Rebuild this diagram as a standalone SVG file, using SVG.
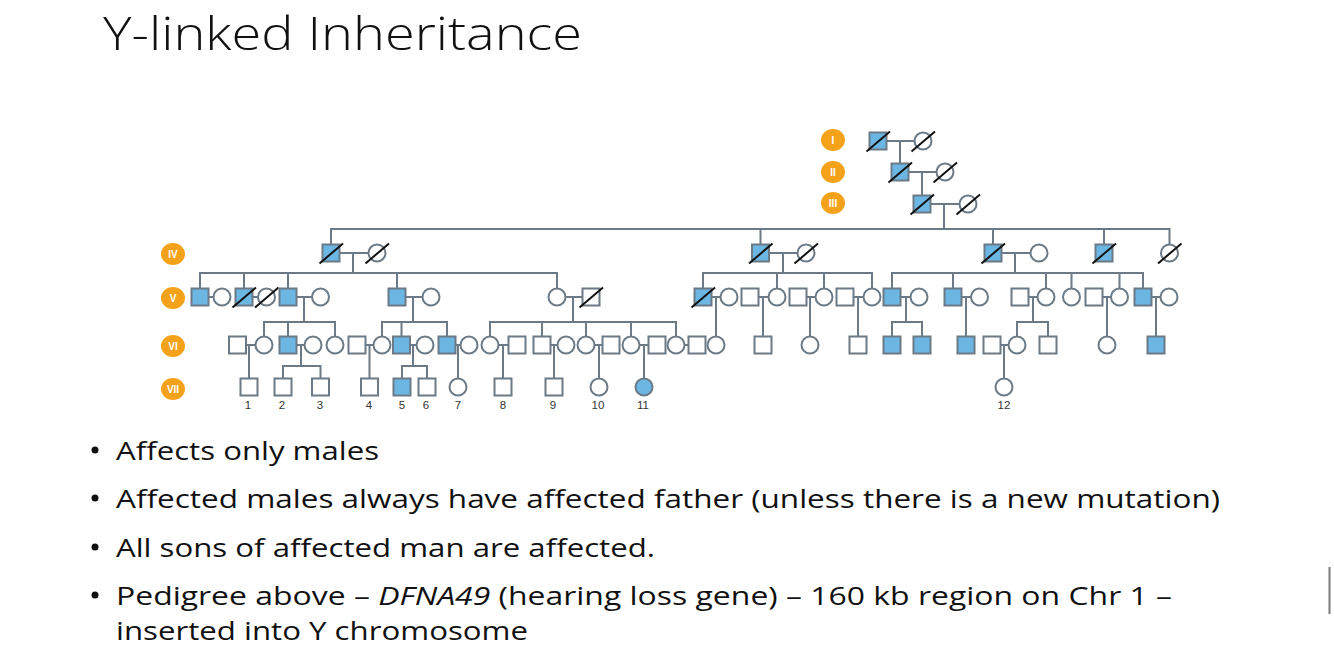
<svg xmlns="http://www.w3.org/2000/svg" xmlns:xlink="http://www.w3.org/1999/xlink" width="1334" height="656" viewBox="0 0 1334 656">
<style>
.bg{fill:#fff}
.nd{fill:#fff;stroke:#6b7a86;stroke-width:2}
.af{fill:#6cb6e4}
.ln{fill:none;stroke:#6b7a86;stroke-width:2}
.d{stroke:#111;stroke-width:2}
.gl{fill:#f5a21b}
.gt{font-family:"Liberation Sans",Arial,sans-serif;font-weight:bold;font-size:10px;fill:#fff;text-anchor:middle}
.num{font-family:"Liberation Sans",Arial,sans-serif;font-size:11.5px;fill:#333;text-anchor:middle}
.title{font-family:"Open Sans","Liberation Sans",sans-serif;font-weight:300;font-size:46px;fill:#111}
.bul{font-family:"Open Sans","Liberation Sans",sans-serif;font-size:26px;fill:#111}
</style>
<defs>
<rect id="sq" x="-8.5" y="-8.5" width="17" height="17"/>
<circle id="ci" r="8.5"/>
<line id="sl" x1="-11.5" y1="10.5" x2="12" y2="-9.5"/>
</defs>
<rect class="bg" x="0" y="0" width="1334" height="656"/>
<text class="title" x="103" y="49.5" textLength="479" lengthAdjust="spacingAndGlyphs">Y-linked Inheritance</text>

<g id="gen-labels">
<ellipse class="gl" cx="833" cy="140" rx="12" ry="11"/><text class="gt" x="833" y="143.5">I</text>
<ellipse class="gl" cx="833" cy="172" rx="12" ry="11"/><text class="gt" x="833" y="175.5">II</text>
<ellipse class="gl" cx="833" cy="203" rx="12" ry="11"/><text class="gt" x="833" y="206.5">III</text>
<ellipse class="gl" cx="173" cy="254" rx="12" ry="11"/><text class="gt" x="173" y="257.5">IV</text>
<ellipse class="gl" cx="173" cy="298" rx="12" ry="11"/><text class="gt" x="173" y="301.5">V</text>
<ellipse class="gl" cx="173" cy="346" rx="12" ry="11"/><text class="gt" x="173" y="349.5">VI</text>
<ellipse class="gl" cx="173" cy="389" rx="12" ry="11"/><text class="gt" x="173" y="392.5">VII</text>
</g>

<g id="connectors">
<path class="ln" d="M886.5 141H914.5M900 141V163.5M908.5 172H936.5M922 172V195.5M930.5 204H959.5M944 204V229
M331 244.5V229H1169.5V244.5M760.5 229V244.5M993 229V244.5M1104 229V244.5
M339.5 253H368.5M353 253V273M200 288.5V273H557V288.5M244 273V288.5M288 273V288.5M397 273V288.5
M208.5 297H213.5M252.5 297H258M296.5 297H312M304 297V322M264 336.5V322H335V336.5M288 322V336.5
M246 345H255.5M249 345V378.5M296.5 345H304.5M301 345V366M283 378.5V366H320.5V378.5
M405.5 297H422.5M413 297V322M382 336.5V322H447V336.5M401.5 322V336.5
M365.5 345H373.5M369.5 345V378.5M410 345H416.5M413 345V366M402 378.5V366H427V378.5M455.5 345H460.5M458 345V378.5
M565.5 297H582.5M573 297V322M490 336.5V322H676V336.5M542 322V336.5M586 322V336.5M631 322V336.5
M498.5 345H508.5M503 345V378.5M550.5 345H557.5M554 345V378.5M594.5 345H602.5M599 345V378.5M639.5 345H648.5M644 345V378.5M684.5 345H688.5
M769 253H797.5M783 253V273M703 288.5V273H872V288.5M777 273V288.5M824 273V288.5
M711.5 297H720.5M716 297V336.5M758.5 297H768.5M763 297V336.5M806.5 297H815.5M810 297V336.5M853.5 297H863.5M858 297V336.5
M1001.5 253H1030.5M1015 253V273M892 288.5V273H1143V288.5M953 273V288.5M1046 273V288.5M1071.5 273V288.5M1119.5 273V288.5
M900.5 297H910.5M906 297V322M892 336.5V322H922V336.5M961.5 297H971M966 297V336.5
M1028.5 297H1037.5M1033 297V322M1017 336.5V322H1048V336.5M1000.5 345H1008.5M1004 345V378.5
M1102.5 297H1111M1107 297V336.5M1151.5 297H1160.5M1156 297V336.5"/>
</g>

<g id="I-1"><use href="#sq" x="878" y="141" class="nd af"/><use href="#sl" x="878" y="141" class="d"/></g>
<g id="I-2"><use href="#ci" x="923" y="141" class="nd"/><use href="#sl" x="923" y="141" class="d"/></g>
<g id="II-1"><use href="#sq" x="900" y="172" class="nd af"/><use href="#sl" x="900" y="172" class="d"/></g>
<g id="II-2"><use href="#ci" x="945" y="172" class="nd"/><use href="#sl" x="945" y="172" class="d"/></g>
<g id="III-1"><use href="#sq" x="922" y="204" class="nd af"/><use href="#sl" x="922" y="204" class="d"/></g>
<g id="III-2"><use href="#ci" x="968" y="204" class="nd"/><use href="#sl" x="968" y="204" class="d"/></g>

<g id="IV-1"><use href="#sq" x="331" y="253" class="nd af"/><use href="#sl" x="331" y="253" class="d"/></g>
<g id="IV-2"><use href="#ci" x="377" y="253" class="nd"/><use href="#sl" x="377" y="253" class="d"/></g>
<g id="IV-3"><use href="#sq" x="760.5" y="253" class="nd af"/><use href="#sl" x="760.5" y="253" class="d"/></g>
<g id="IV-4"><use href="#ci" x="806" y="253" class="nd"/><use href="#sl" x="806" y="253" class="d"/></g>
<g id="IV-5"><use href="#sq" x="993" y="253" class="nd af"/><use href="#sl" x="993" y="253" class="d"/></g>
<g id="IV-6"><use href="#ci" x="1039" y="253" class="nd"/></g>
<g id="IV-7"><use href="#sq" x="1104" y="253" class="nd af"/><use href="#sl" x="1104" y="253" class="d"/></g>
<g id="IV-8"><use href="#ci" x="1169.5" y="253" class="nd"/><use href="#sl" x="1169.5" y="253" class="d"/></g>

<g id="V-1"><use href="#sq" x="200" y="297" class="nd af"/></g>
<g id="V-2"><use href="#ci" x="222" y="297" class="nd"/></g>
<g id="V-3"><use href="#sq" x="244" y="297" class="nd af"/><use href="#sl" x="244" y="297" class="d"/></g>
<g id="V-4"><use href="#ci" x="266.5" y="297" class="nd"/><use href="#sl" x="266.5" y="297" class="d"/></g>
<g id="V-5"><use href="#sq" x="288" y="297" class="nd af"/></g>
<g id="V-6"><use href="#ci" x="320.5" y="297" class="nd"/></g>
<g id="V-7"><use href="#sq" x="397" y="297" class="nd af"/></g>
<g id="V-8"><use href="#ci" x="431" y="297" class="nd"/></g>
<g id="V-9"><use href="#ci" x="557" y="297" class="nd"/></g>
<g id="V-10"><use href="#sq" x="591" y="297" class="nd"/><use href="#sl" x="591" y="297" class="d"/></g>
<g id="V-11"><use href="#sq" x="703" y="297" class="nd af"/><use href="#sl" x="703" y="297" class="d"/></g>
<g id="V-12"><use href="#ci" x="729" y="297" class="nd"/></g>
<g id="V-13"><use href="#sq" x="750" y="297" class="nd"/></g>
<g id="V-14"><use href="#ci" x="777" y="297" class="nd"/></g>
<g id="V-15"><use href="#sq" x="798" y="297" class="nd"/></g>
<g id="V-16"><use href="#ci" x="824" y="297" class="nd"/></g>
<g id="V-17"><use href="#sq" x="845" y="297" class="nd"/></g>
<g id="V-18"><use href="#ci" x="872" y="297" class="nd"/></g>
<g id="V-19"><use href="#sq" x="892" y="297" class="nd af"/></g>
<g id="V-20"><use href="#ci" x="919" y="297" class="nd"/></g>
<g id="V-21"><use href="#sq" x="953" y="297" class="nd af"/></g>
<g id="V-22"><use href="#ci" x="979.5" y="297" class="nd"/></g>
<g id="V-23"><use href="#sq" x="1020" y="297" class="nd"/></g>
<g id="V-24"><use href="#ci" x="1046" y="297" class="nd"/></g>
<g id="V-25"><use href="#ci" x="1071.5" y="297" class="nd"/></g>
<g id="V-26"><use href="#sq" x="1094" y="297" class="nd"/></g>
<g id="V-27"><use href="#ci" x="1119.5" y="297" class="nd"/></g>
<g id="V-28"><use href="#sq" x="1143" y="297" class="nd af"/></g>
<g id="V-29"><use href="#ci" x="1169" y="297" class="nd"/></g>

<g id="VI-1"><use href="#sq" x="237.5" y="345" class="nd"/></g>
<g id="VI-2"><use href="#ci" x="264" y="345" class="nd"/></g>
<g id="VI-3"><use href="#sq" x="288" y="345" class="nd af"/></g>
<g id="VI-4"><use href="#ci" x="313" y="345" class="nd"/></g>
<g id="VI-5"><use href="#ci" x="335" y="345" class="nd"/></g>
<g id="VI-6"><use href="#sq" x="357" y="345" class="nd"/></g>
<g id="VI-7"><use href="#ci" x="382" y="345" class="nd"/></g>
<g id="VI-8"><use href="#sq" x="401.5" y="345" class="nd af"/></g>
<g id="VI-9"><use href="#ci" x="425" y="345" class="nd"/></g>
<g id="VI-10"><use href="#sq" x="447" y="345" class="nd af"/></g>
<g id="VI-11"><use href="#ci" x="469" y="345" class="nd"/></g>
<g id="VI-12"><use href="#ci" x="490" y="345" class="nd"/></g>
<g id="VI-13"><use href="#sq" x="517" y="345" class="nd"/></g>
<g id="VI-14"><use href="#sq" x="542" y="345" class="nd"/></g>
<g id="VI-15"><use href="#ci" x="566" y="345" class="nd"/></g>
<g id="VI-16"><use href="#ci" x="586" y="345" class="nd"/></g>
<g id="VI-17"><use href="#sq" x="611" y="345" class="nd"/></g>
<g id="VI-18"><use href="#ci" x="631" y="345" class="nd"/></g>
<g id="VI-19"><use href="#sq" x="657" y="345" class="nd"/></g>
<g id="VI-20"><use href="#ci" x="676" y="345" class="nd"/></g>
<g id="VI-21"><use href="#sq" x="697" y="345" class="nd"/></g>
<g id="VI-22"><use href="#ci" x="716" y="345" class="nd"/></g>
<g id="VI-23"><use href="#sq" x="763" y="345" class="nd"/></g>
<g id="VI-24"><use href="#ci" x="810" y="345" class="nd"/></g>
<g id="VI-25"><use href="#sq" x="858" y="345" class="nd"/></g>
<g id="VI-26"><use href="#sq" x="892" y="345" class="nd af"/></g>
<g id="VI-27"><use href="#sq" x="922" y="345" class="nd af"/></g>
<g id="VI-28"><use href="#sq" x="966" y="345" class="nd af"/></g>
<g id="VI-29"><use href="#sq" x="992" y="345" class="nd"/></g>
<g id="VI-30"><use href="#ci" x="1017" y="345" class="nd"/></g>
<g id="VI-31"><use href="#sq" x="1048" y="345" class="nd"/></g>
<g id="VI-32"><use href="#ci" x="1107" y="345" class="nd"/></g>
<g id="VI-33"><use href="#sq" x="1156" y="345" class="nd af"/></g>

<g id="VII-1"><use href="#sq" x="249" y="387" class="nd"/><text class="num" x="248" y="409">1</text></g>
<g id="VII-2"><use href="#sq" x="283" y="387" class="nd"/><text class="num" x="282" y="409">2</text></g>
<g id="VII-3"><use href="#sq" x="320.5" y="387" class="nd"/><text class="num" x="320" y="409">3</text></g>
<g id="VII-4"><use href="#sq" x="369.5" y="387" class="nd"/><text class="num" x="369" y="409">4</text></g>
<g id="VII-5"><use href="#sq" x="402" y="387" class="nd af"/><text class="num" x="402" y="409">5</text></g>
<g id="VII-6"><use href="#sq" x="427" y="387" class="nd"/><text class="num" x="426" y="409">6</text></g>
<g id="VII-7"><use href="#ci" x="458" y="387" class="nd"/><text class="num" x="458" y="409">7</text></g>
<g id="VII-8"><use href="#sq" x="503" y="387" class="nd"/><text class="num" x="503" y="409">8</text></g>
<g id="VII-9"><use href="#sq" x="554" y="387" class="nd"/><text class="num" x="553" y="409">9</text></g>
<g id="VII-10"><use href="#ci" x="599" y="387" class="nd"/><text class="num" x="598" y="409">10</text></g>
<g id="VII-11"><use href="#ci" x="644" y="387" class="nd af"/><text class="num" x="643" y="409">11</text></g>
<g id="VII-12"><use href="#ci" x="1004" y="387" class="nd"/><text class="num" x="1004" y="409">12</text></g>

<g id="bullets">
<circle cx="95" cy="450" r="3.5" fill="#111"/>
<text class="bul" x="116" y="460" textLength="263" lengthAdjust="spacingAndGlyphs">Affects only males</text>
<circle cx="95" cy="498" r="3.5" fill="#111"/>
<text class="bul" x="116" y="508" textLength="1104" lengthAdjust="spacingAndGlyphs">Affected males always have affected father (unless there is a new mutation)</text>
<circle cx="95" cy="547" r="3.5" fill="#111"/>
<text class="bul" x="116" y="557" textLength="539" lengthAdjust="spacingAndGlyphs">All sons of affected man are affected.</text>
<circle cx="95" cy="595" r="3.5" fill="#111"/>
<text class="bul" x="116" y="604.5" textLength="1056" lengthAdjust="spacingAndGlyphs">Pedigree above – <tspan font-style="italic">DFNA49</tspan> (hearing loss gene) – 160 kb region on Chr 1 –</text>
<text class="bul" x="116" y="640" textLength="412" lengthAdjust="spacingAndGlyphs">inserted into Y chromosome</text>
</g>
<rect x="1328.5" y="567" width="2" height="47" fill="#7a7a7a"/>
</svg>
